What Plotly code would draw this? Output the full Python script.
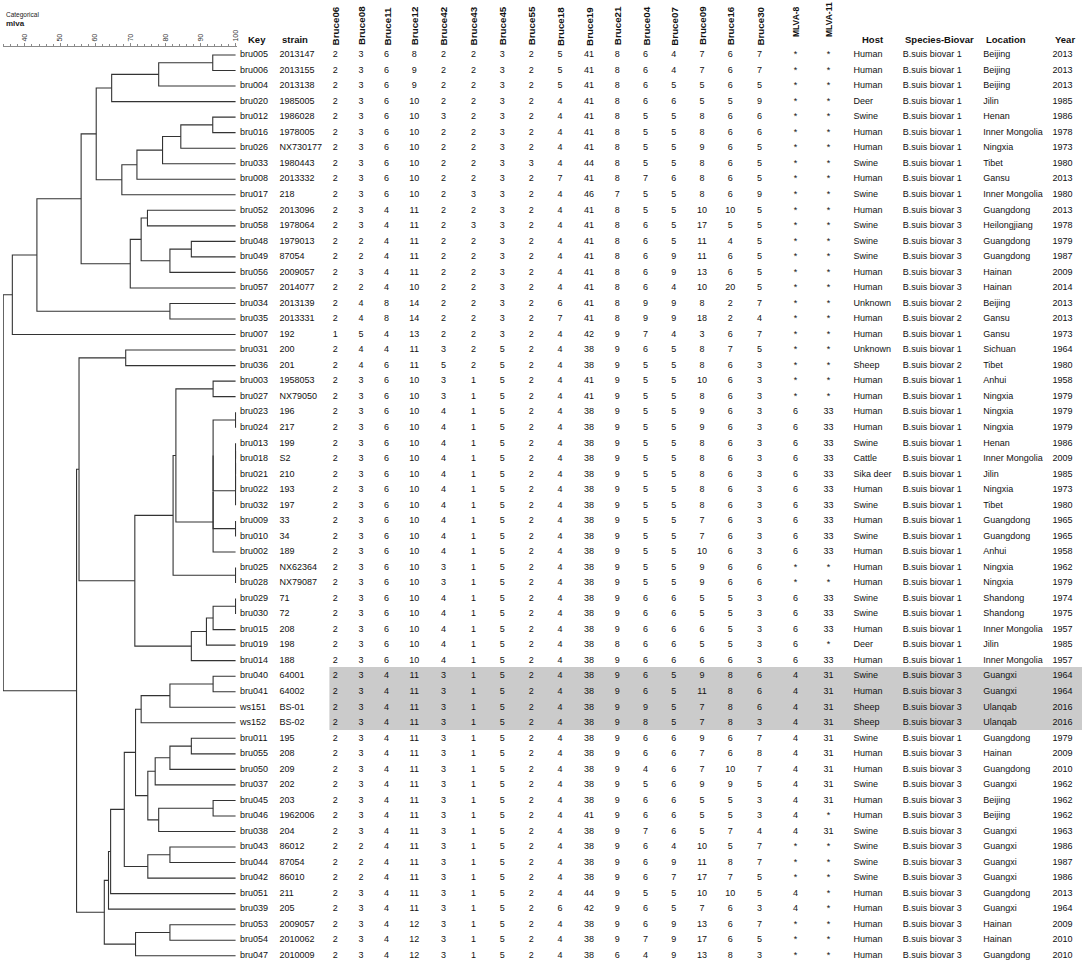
import plotly.graph_objects as go

W, H = 1084, 963

# ---------------- data ----------------
keys = ["bru005", "bru006", "bru004", "bru020", "bru012", "bru016", "bru026", "bru033", "bru008", "bru017",
        "bru052", "bru058", "bru048", "bru049", "bru056", "bru057", "bru034", "bru035", "bru007", "bru031",
        "bru036", "bru003", "bru027", "bru023", "bru024", "bru013", "bru018", "bru021", "bru022", "bru032",
        "bru009", "bru010", "bru002", "bru025", "bru028", "bru029", "bru030", "bru015", "bru019", "bru014",
        "bru040", "bru041", "ws151", "ws152", "bru011", "bru055", "bru050", "bru037", "bru045", "bru046",
        "bru038", "bru043", "bru044", "bru042", "bru051", "bru039", "bru053", "bru054", "bru047"]

strains = ["2013147", "2013155", "2013138", "1985005", "1986028", "1978005", "NX730177", "1980443", "2013332", "218",
           "2013096", "1978064", "1979013", "87054", "2009057", "2014077", "2013139", "2013331", "192", "200",
           "201", "1958053", "NX79050", "196", "217", "199", "S2", "210", "193", "197",
           "33", "34", "189", "NX62364", "NX79087", "71", "72", "208", "198", "188",
           "64001", "64002", "BS-01", "BS-02", "195", "208", "209", "202", "203", "1962006",
           "204", "86012", "87054", "86010", "211", "205", "2009057", "2010062", "2010009"]

bruce06 = [2, 2, 2, 2, 2, 2, 2, 2, 2, 2,  2, 2, 2, 2, 2, 2, 2, 2, 1, 2,
           2, 2, 2, 2, 2, 2, 2, 2, 2, 2,  2, 2, 2, 2, 2, 2, 2, 2, 2, 2,
           2, 2, 2, 2, 2, 2, 2, 2, 2, 2,  2, 2, 2, 2, 2, 2, 2, 2, 2]
bruce08 = [3, 3, 3, 3, 3, 3, 3, 3, 3, 3,  3, 3, 2, 2, 3, 2, 4, 4, 5, 4,
           4, 3, 3, 3, 3, 3, 3, 3, 3, 3,  3, 3, 3, 3, 3, 3, 3, 3, 3, 3,
           3, 3, 3, 3, 3, 3, 3, 3, 3, 3,  3, 2, 2, 2, 3, 3, 3, 3, 3]
bruce11 = [6, 6, 6, 6, 6, 6, 6, 6, 6, 6,  4, 4, 4, 4, 4, 4, 8, 8, 4, 4,
           6, 6, 6, 6, 6, 6, 6, 6, 6, 6,  6, 6, 6, 6, 6, 6, 6, 6, 6, 6,
           4, 4, 4, 4, 4, 4, 4, 4, 4, 4,  4, 4, 4, 4, 4, 4, 4, 4, 4]
bruce12 = [8, 9, 9, 10, 10, 10, 10, 10, 10, 10,  11, 11, 11, 11, 11, 10, 14, 14, 13, 11,
           11, 10, 10, 10, 10, 10, 10, 10, 10, 10,  10, 10, 10, 10, 10, 10, 10, 10, 10, 10,
           11, 11, 11, 11, 11, 11, 11, 11, 11, 11,  11, 11, 11, 11, 11, 11, 12, 12, 12]
bruce42 = [2, 2, 2, 2, 3, 2, 2, 2, 2, 2,  2, 2, 2, 2, 2, 2, 2, 2, 2, 3,
           5, 3, 3, 4, 4, 4, 4, 4, 4, 4,  4, 4, 4, 3, 3, 4, 4, 4, 4, 4,
           3, 3, 3, 3, 3, 3, 3, 3, 3, 3,  3, 3, 3, 3, 3, 3, 3, 3, 3]
bruce43 = [2, 2, 2, 2, 2, 2, 2, 2, 2, 3,  2, 3, 2, 2, 2, 2, 2, 2, 2, 2,
           2, 1, 1, 1, 1, 1, 1, 1, 1, 1,  1, 1, 1, 1, 1, 1, 1, 1, 1, 1,
           1, 1, 1, 1, 1, 1, 1, 1, 1, 1,  1, 1, 1, 1, 1, 1, 1, 1, 1]
bruce45 = [3, 3, 3, 3, 3, 3, 3, 3, 3, 3,  3, 3, 3, 3, 3, 3, 3, 3, 3, 5,
           5, 5, 5, 5, 5, 5, 5, 5, 5, 5,  5, 5, 5, 5, 5, 5, 5, 5, 5, 5,
           5, 5, 5, 5, 5, 5, 5, 5, 5, 5,  5, 5, 5, 5, 5, 5, 5, 5, 5]
bruce55 = [2, 2, 2, 2, 2, 2, 2, 3, 2, 2,  2, 2, 2, 2, 2, 2, 2, 2, 2, 2,
           2, 2, 2, 2, 2, 2, 2, 2, 2, 2,  2, 2, 2, 2, 2, 2, 2, 2, 2, 2,
           2, 2, 2, 2, 2, 2, 2, 2, 2, 2,  2, 2, 2, 2, 2, 2, 2, 2, 2]
bruce18 = [5, 5, 5, 4, 4, 4, 4, 4, 7, 4,  4, 4, 4, 4, 4, 4, 6, 7, 4, 4,
           4, 4, 4, 4, 4, 4, 4, 4, 4, 4,  4, 4, 4, 4, 4, 4, 4, 4, 4, 4,
           4, 4, 4, 4, 4, 4, 4, 4, 4, 4,  4, 4, 4, 4, 4, 6, 4, 4, 4]
bruce19 = [41, 41, 41, 41, 41, 41, 41, 44, 41, 46,  41, 41, 41, 41, 41, 41, 41, 41, 42, 38,
           38, 41, 41, 38, 38, 38, 38, 38, 38, 38,  38, 38, 38, 38, 38, 38, 38, 38, 38, 38,
           38, 38, 38, 38, 38, 38, 38, 38, 38, 41,  38, 38, 38, 38, 44, 42, 38, 38, 38]
bruce21 = [8, 8, 8, 8, 8, 8, 8, 8, 8, 7,  8, 8, 8, 8, 8, 8, 8, 8, 9, 9,
           9, 9, 9, 9, 9, 9, 9, 9, 9, 9,  9, 9, 9, 9, 9, 9, 9, 9, 8, 9,
           9, 9, 9, 9, 9, 9, 9, 9, 9, 9,  9, 9, 9, 9, 9, 9, 9, 9, 6]
bruce04 = [6, 6, 6, 6, 5, 5, 5, 5, 7, 5,  5, 6, 6, 6, 6, 6, 9, 9, 7, 6,
           5, 5, 5, 5, 5, 5, 5, 5, 5, 5,  5, 5, 5, 5, 5, 6, 6, 6, 6, 6,
           6, 6, 9, 8, 6, 6, 4, 5, 6, 6,  7, 6, 6, 6, 5, 6, 6, 7, 4]
bruce07 = [4, 4, 5, 6, 5, 5, 5, 5, 6, 5,  5, 5, 5, 9, 9, 4, 9, 9, 4, 5,
           5, 5, 5, 5, 5, 5, 5, 5, 5, 5,  5, 5, 5, 5, 5, 6, 6, 6, 6, 6,
           5, 5, 5, 5, 6, 6, 6, 6, 6, 6,  6, 4, 9, 7, 5, 5, 9, 9, 9]
bruce09 = [7, 7, 5, 5, 8, 8, 9, 8, 8, 8,  10, 17, 11, 11, 13, 10, 8, 18, 3, 8,
           8, 10, 8, 9, 9, 8, 8, 8, 8, 8,  7, 7, 10, 9, 9, 5, 5, 6, 5, 6,
           9, 11, 7, 7, 9, 7, 7, 9, 5, 5,  5, 10, 11, 17, 10, 7, 13, 17, 13]
bruce16 = [6, 6, 6, 5, 6, 6, 6, 6, 6, 6,  10, 5, 4, 6, 6, 20, 2, 2, 6, 7,
           6, 6, 6, 6, 6, 6, 6, 6, 6, 6,  6, 6, 6, 6, 6, 5, 5, 5, 5, 6,
           8, 8, 8, 8, 6, 6, 10, 9, 5, 5,  7, 5, 8, 7, 10, 6, 6, 6, 8]
bruce30 = [7, 7, 5, 9, 6, 6, 5, 5, 5, 9,  5, 5, 5, 5, 5, 5, 7, 4, 7, 5,
           3, 3, 3, 3, 3, 3, 3, 3, 3, 3,  3, 3, 3, 6, 6, 3, 3, 3, 3, 3,
           6, 6, 6, 3, 7, 8, 7, 5, 3, 3,  4, 7, 7, 5, 5, 3, 7, 5, 3]
mlva8 = ["*", "*", "*", "*", "*", "*", "*", "*", "*", "*",  "*", "*", "*", "*", "*", "*", "*", "*", "*", "*",
         "*", "*", "*", "6", "6", "6", "6", "6", "6", "6",  "6", "6", "6", "*", "*", "6", "6", "6", "6", "6",
         "4", "4", "4", "4", "4", "4", "4", "4", "4", "4",  "4", "*", "*", "*", "4", "4", "*", "*", "*"]
mlva11 = ["*", "*", "*", "*", "*", "*", "*", "*", "*", "*",  "*", "*", "*", "*", "*", "*", "*", "*", "*", "*",
          "*", "*", "*", "33", "33", "33", "33", "33", "33", "33",  "33", "33", "33", "*", "*", "33", "33", "33", "*", "33",
          "31", "31", "31", "31", "31", "31", "31", "31", "31", "*",  "31", "*", "*", "*", "*", "*", "*", "*", "*"]

marker_names = ["Bruce06", "Bruce08", "Bruce11", "Bruce12", "Bruce42", "Bruce43", "Bruce45", "Bruce55",
                "Bruce18", "Bruce19", "Bruce21", "Bruce04", "Bruce07", "Bruce09", "Bruce16", "Bruce30",
                "MLVA-8", "MLVA-11"]
marker_values = [bruce06, bruce08, bruce11, bruce12, bruce42, bruce43, bruce45, bruce55,
                 bruce18, bruce19, bruce21, bruce04, bruce07, bruce09, bruce16, bruce30, mlva8, mlva11]

hosts = ["Human", "Human", "Human", "Deer", "Swine", "Human", "Human", "Swine", "Human", "Swine",
         "Human", "Swine", "Swine", "Swine", "Human", "Human", "Unknown", "Human", "Human", "Unknown",
         "Sheep", "Human", "Human", "Human", "Human", "Swine", "Cattle", "Sika deer", "Human", "Swine",
         "Human", "Swine", "Human", "Human", "Human", "Swine", "Swine", "Human", "Deer", "Human",
         "Swine", "Human", "Sheep", "Sheep", "Swine", "Human", "Human", "Swine", "Human", "Human",
         "Swine", "Swine", "Swine", "Swine", "Human", "Human", "Human", "Human", "Human"]

species = [
    "B.suis biovar 1", "B.suis biovar 1", "B.suis biovar 1", "B.suis biovar 1", "B.suis biovar 1",
    "B.suis biovar 1", "B.suis biovar 1", "B.suis biovar 1", "B.suis biovar 1", "B.suis biovar 1",
    "B.suis biovar 3", "B.suis biovar 3", "B.suis biovar 3", "B.suis biovar 3", "B.suis biovar 3",
    "B.suis biovar 3", "B.suis biovar 2", "B.suis biovar 2", "B.suis biovar 1", "B.suis biovar 1",
    "B.suis biovar 2", "B.suis biovar 1", "B.suis biovar 1", "B.suis biovar 1", "B.suis biovar 1",
    "B.suis biovar 1", "B.suis biovar 1", "B.suis biovar 1", "B.suis biovar 1", "B.suis biovar 1",
    "B.suis biovar 1", "B.suis biovar 1", "B.suis biovar 1", "B.suis biovar 1", "B.suis biovar 1",
    "B.suis biovar 1", "B.suis biovar 1", "B.suis biovar 1", "B.suis biovar 1", "B.suis biovar 1",
    "B.suis biovar 3", "B.suis biovar 3", "B.suis biovar 3", "B.suis biovar 3", "B.suis biovar 1",
    "B.suis biovar 3", "B.suis biovar 3", "B.suis biovar 3", "B.suis biovar 3", "B.suis biovar 3",
    "B.suis biovar 3", "B.suis biovar 3", "B.suis biovar 3", "B.suis biovar 3", "B.suis biovar 3",
    "B.suis biovar 3", "B.suis biovar 3", "B.suis biovar 3", "B.suis biovar 3"]

locations = ["Beijing", "Beijing", "Beijing", "Jilin", "Henan", "Inner Mongolia", "Ningxia", "Tibet", "Gansu", "Inner Mongolia",
             "Guangdong", "Heilongjiang", "Guangdong", "Guangdong", "Hainan", "Hainan", "Beijing", "Gansu", "Gansu", "Sichuan",
             "Tibet", "Anhui", "Ningxia", "Ningxia", "Ningxia", "Henan", "Inner Mongolia", "Jilin", "Ningxia", "Tibet",
             "Guangdong", "Guangdong", "Anhui", "Ningxia", "Ningxia", "Shandong", "Shandong", "Inner Mongolia", "Jilin", "Inner Mongolia",
             "Guangxi", "Guangxi", "Ulanqab", "Ulanqab", "Guangdong", "Hainan", "Guangdong", "Guangxi", "Beijing", "Beijing",
             "Guangxi", "Guangxi", "Guangxi", "Guangxi", "Guangdong", "Guangxi", "Hainan", "Hainan", "Guangdong"]

years = [2013, 2013, 2013, 1985, 1986, 1978, 1973, 1980, 2013, 1980,
         2013, 1978, 1979, 1987, 2009, 2014, 2013, 2013, 1973, 1964,
         1980, 1958, 1979, 1979, 1979, 1986, 2009, 1985, 1973, 1980,
         1965, 1965, 1958, 1962, 1979, 1974, 1975, 1957, 1985, 1957,
         1964, 1964, 2016, 2016, 1979, 2009, 2010, 1962, 1962, 1962,
         1963, 1986, 1987, 1986, 2013, 1964, 2009, 2010, 2010]

# dendrogram merges: children (leaf = row index, node = 59 + merge index) and similarity %
merge_a = [0, 59, 60, 4, 62, 63, 64, 65, 61, 10, 12, 69, 68, 71, 67, 16, 73, 75,
           19, 21, 23, 25, 80, 81, 82, 79, 30, 84, 86, 78, 33, 88, 35, 91, 92, 93, 90, 77,
           40, 97, 98, 44, 100, 101, 48, 103, 102, 99, 51, 107, 106, 109, 110, 56, 112, 111,
           96, 76]
merge_b = [1, 2, 3, 5, 6, 7, 8, 9, 66, 11, 13, 14, 70, 15, 72, 17, 74, 18,
           20, 22, 24, 26, 27, 28, 29, 83, 31, 85, 32, 87, 34, 89, 36, 37, 38, 39, 94, 95,
           41, 42, 43, 45, 46, 47, 49, 50, 104, 105, 52, 53, 108, 54, 55, 57, 58, 113,
           114, 115]
merge_sim = [93.5, 78.1, 64.7, 93.5, 84.4, 79.2, 71.9, 67.6, 60.3, 74.9, 87.4, 81.3, 73.1, 70.0, 56.0, 81.3, 43.4, 36.4,
             68.7, 93.6, 100, 100, 100, 100, 100, 93.6, 100, 93.6, 93.6, 83.0, 100, 82.2, 100, 93.6, 91.7, 87.4, 71.3, 55.4,
             93.6, 81.3, 73.1, 87.4, 81.3, 77.1, 93.6, 78.1, 75.0, 71.5, 81.3, 75.0, 68.3, 64.4, 63.8, 81.3, 71.5, 62.6,
             54.7, 33.8]

scale_ticks = [40, 50, 60, 70, 80, 90, 100]

# ---------------- layout constants (pixels) ----------------
ROW0, ROWSTEP, AXIS_Y = 55.0, 15.53, 47.0
y_top = (AXIS_Y - ROW0) / ROWSTEP
y_bot = (H - ROW0) / ROWSTEP
FONT = "Liberation Sans, Arial, sans-serif"
n = len(keys)
rows = list(range(n))

marker_x = [336, 361.7, 387.3, 415, 444.3, 474.3, 503.3, 532.3, 561, 590,
            618.3, 646.7, 675, 703.3, 731.7, 761, 797, 830]
x_key, x_strain, x_host, x_species, x_loc, x_year = 240.5, 280, 855, 904.5, 985, 1054.5

# dendrogram segments computed from the merge list
pos = {i: (100.0, float(i)) for i in rows}
dx, dy = [], []
for k, (a, b, h) in enumerate(zip(merge_a, merge_b, merge_sim)):
    ha, ya = pos[a]
    hb, yb = pos[b]
    dx += [ha, h, h, hb, None]
    dy += [ya, ya, yb, yb, None]
    pos[n + k] = (h, (ya + yb) / 2)

fig = go.Figure()
fig.add_trace(go.Scatter(x=dx, y=dy, mode="lines", line=dict(color="#333333", width=1.1),
                         xaxis="x", yaxis="y", hoverinfo="skip", showlegend=False))

TF = dict(family=FONT, size=9, color="#111111")


def text_col(x, vals, pos_="middle center"):
    fig.add_trace(go.Scatter(x=[x] * n, y=rows, text=[str(v) for v in vals], mode="text",
                             textposition=pos_, textfont=TF, marker=dict(size=1),
                             xaxis="x2", yaxis="y", hoverinfo="skip", showlegend=False, cliponaxis=False))


text_col(x_key, keys, "middle right")
text_col(x_strain, strains, "middle right")
for cx, vals in zip(marker_x, marker_values):
    text_col(cx, vals)
text_col(x_host, hosts, "middle right")
text_col(x_species, species, "middle right")
text_col(x_loc, locations, "middle right")
text_col(x_year, years, "middle right")

ann = []
HF = dict(family=FONT, size=9.5, color="#111111")
for lbl, x in [("Key", 246), ("strain", 281), ("Host", 862), ("Species-Biovar", 905),
               ("Location", 985.5), ("Year", 1055)]:
    ann.append(dict(text="<b>%s</b>" % lbl, x=x, xref="x2", y=1 - 39 / H, yref="paper",
                    xanchor="left", yanchor="middle", showarrow=False, font=HF))
for lbl, cx in zip(marker_names, marker_x):
    is_mlva = lbl.startswith("MLVA")
    bottom = 39 if is_mlva else 47.5
    ann.append(dict(text="<b>%s</b>" % lbl, x=cx, xref="x2", y=1 - bottom / H, yref="paper",
                    xanchor="center", yanchor="bottom", textangle=-90, showarrow=False,
                    font=dict(family=FONT, size=8.5 if is_mlva else 9.8, color="#111111")))
ann.append(dict(text="Categorical", x=4 / W, xref="paper", y=1 - 15 / H, yref="paper",
                xanchor="left", yanchor="middle", showarrow=False,
                font=dict(family=FONT, size=6.5, color="#222222")))
ann.append(dict(text="<b>mlva</b>", x=4 / W, xref="paper", y=1 - 23 / H, yref="paper",
                xanchor="left", yanchor="middle", showarrow=False,
                font=dict(family=FONT, size=8, color="#222222")))

PX = 233 / (100 - 33.74)
fig.update_layout(
    width=W, height=H, margin=dict(l=0, r=0, t=0, b=0),
    paper_bgcolor="white", plot_bgcolor="rgba(0,0,0,0)", showlegend=False,
    xaxis=dict(domain=[3 / W, 237 / W], range=[33.74, 100 + 1 / PX], side="top", anchor="y",
               showline=True, linecolor="#8a8a8a", linewidth=1, showgrid=False, zeroline=False,
               tickmode="array", tickvals=scale_ticks, ticktext=[str(t) for t in scale_ticks],
               ticks="outside", ticklen=3, tickcolor="#8a8a8a", tickangle=-90,
               tickfont=dict(family=FONT, size=7, color="#333333"),
               minor=dict(tick0=34, dtick=2, ticks="outside", ticklen=2, tickcolor="#8a8a8a", showgrid=False),
               fixedrange=True),
    xaxis2=dict(domain=[0, 1], range=[0, W], anchor="y", visible=False, fixedrange=True),
    yaxis=dict(domain=[0, 1 - AXIS_Y / H], range=[y_bot, y_top], visible=False, fixedrange=True),
    annotations=ann,
    shapes=[dict(type="rect", xref="x2", yref="y", x0=330, x1=W, y0=39.4, y1=43.47,
                 fillcolor="#cbcbcb", line=dict(width=0), layer="below")],
)

fig.write_html("out.html", config={"displayModeBar": False},
               post_script="document.documentElement.style.margin='0';document.body.style.margin='0';"
                           "document.body.style.overflow='hidden';")
